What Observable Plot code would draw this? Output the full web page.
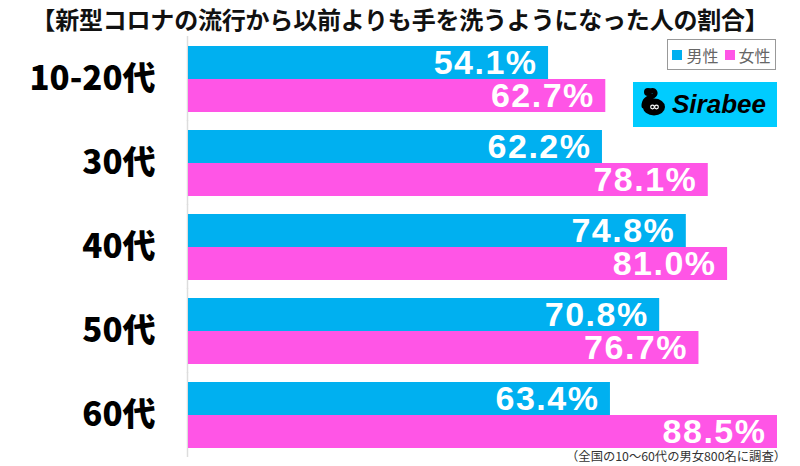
<!DOCTYPE html>
<html><head><meta charset="utf-8">
<script src="https://cdn.jsdelivr.net/npm/d3@7"></script>
<script src="https://cdn.jsdelivr.net/npm/@observablehq/plot@0.6"></script>
<style>
body{margin:0;background:#fff;font-family:"Noto Sans CJK JP","Noto Sans",sans-serif}
#wrap{position:relative;width:800px;height:466px;overflow:hidden;background:#fff}
#chart{position:absolute;left:0;top:0}
#title{position:absolute;left:0;top:2px;width:800px;text-align:center;font-size:24px;font-weight:bold;color:#111;line-height:34px;letter-spacing:-0.2px}
#legend{position:absolute;left:667px;top:39px;width:107px;height:29px;border:1px solid #999;box-sizing:content-box;font-size:16px;color:#666;display:flex;align-items:center;justify-content:center;gap:2px;white-space:nowrap}
#legend .sw{display:inline-block;width:10px;height:10px;margin:0 2px 0 0}
#logo{position:absolute;left:633px;top:82px;width:144px;height:45px;background:#00ccff}
#note{position:absolute;right:14px;top:449px;font-size:12.3px;line-height:14px;color:#333;white-space:nowrap}
</style></head>
<body>
<div id="wrap">
  <div id="chart"></div>
  <div id="title"></div>
  <div id="legend"></div>
  <div id="logo">
    <svg width="144" height="45" viewBox="0 0 144 45">
      <path d="M 17 9 C 22 7, 24 12, 20 14 C 16 16, 11 17, 11 24" fill="none" stroke="#000" stroke-width="5" stroke-linecap="round"/>
      <circle cx="15" cy="10" r="4" fill="#000"/>
      <ellipse cx="21" cy="25" rx="11" ry="8.5" fill="#000"/>
      <circle cx="19.5" cy="25" r="1.8" fill="none" stroke="#fff" stroke-width="1.2"/>
      <circle cx="23.5" cy="25" r="1.8" fill="none" stroke="#fff" stroke-width="1.2"/>
      <text x="39" y="31" font-family="'Liberation Sans',Arial,sans-serif" font-size="26" font-weight="bold" font-style="italic" fill="#000">Sirabee</text>
    </svg>
  </div>
  <div id="note"></div>
</div>
<script>
const titleText = "【新型コロナの流行から以前よりも手を洗うようになった人の割合】";
const noteText = "（全国の10～60代の男女800名に調査）";
const ages = ["10-20代", "30代", "40代", "50代", "60代"];
const sexes = ["男性", "女性"];
const maleValues = [54.1, 62.2, 74.8, 70.8, 63.4];
const femaleValues = [62.7, 78.1, 81.0, 76.7, 88.5];
const colors = ["#00b0f0", "#ff55e6"];

const rows = [];
ages.forEach((a, i) => {
  rows.push({age: a, sex: sexes[0], value: maleValues[i]});
  rows.push({age: a, sex: sexes[1], value: femaleValues[i]});
});

document.getElementById("title").textContent = titleText;
document.getElementById("note").textContent = noteText;
const lg = document.getElementById("legend");
sexes.forEach((s, i) => {
  const sw = document.createElement("span"); sw.className = "sw"; sw.style.background = colors[i];
  const t = document.createElement("span"); t.textContent = s; t.style.marginRight = i === 0 ? "4px" : "0";
  lg.appendChild(sw); lg.appendChild(t);
});

const font = "'Noto Sans CJK JP','Noto Sans',sans-serif";
const chart = Plot.plot({
  width: 800,
  height: 466,
  marginLeft: 188,
  marginRight: 23,
  marginTop: 45,
  marginBottom: 18,
  style: {fontFamily: font, background: "transparent"},
  x: {domain: [0, 88.5], axis: null},
  fy: {domain: ages, paddingInner: 0.207, paddingOuter: 0, axis: null},
  y: {domain: sexes, padding: 0, axis: null},
  color: {domain: sexes, range: colors},
  marks: [
    Plot.ruleX([0], {stroke: "#dddddd", strokeWidth: 1.5, dx: -1, insetTop: -9, insetBottom: -9}),
    Plot.barX(rows, {fy: "age", y: "sex", x: "value", fill: "sex"}),
    Plot.text(rows, {fy: "age", y: "sex", x: "value", text: d => d.value.toFixed(1) + "%", textAnchor: "end", dx: -11, dy: 1, fill: "white", fontSize: 34, fontWeight: "bold", fontFamily: "'Liberation Sans',Arial,sans-serif", lineHeight: 0.9}),
    Plot.text(ages, {fy: d => d, text: d => d, frameAnchor: "left", textAnchor: "end", dx: -33, fill: "#000", fontSize: 33, fontWeight: 900, fontFamily: font})
  ]
});
chart.querySelectorAll("text").forEach(t => { if (t.getAttribute("fill") === "white" || (t.parentNode && t.parentNode.getAttribute && t.parentNode.getAttribute("fill") === "white")) t.style.letterSpacing = "1.5px"; });
document.getElementById("chart").appendChild(chart);
</script>
</body></html>
